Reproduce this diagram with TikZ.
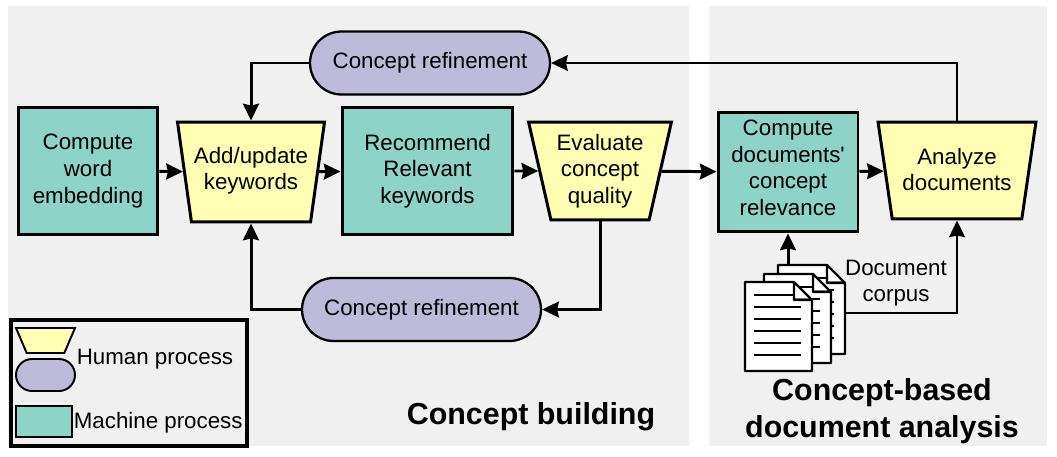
\documentclass[tikz,border=0pt]{standalone}
\usepackage{fontspec}
\setmainfont{Liberation Sans}[Ligatures=TeXOff]
\usetikzlibrary{arrows.meta}
\usetikzlibrary{shapes.geometric}
\usetikzlibrary{shapes.misc}
\definecolor{panelgray}{HTML}{F0F0F0}
\definecolor{machineteal}{HTML}{8DD3C7}
\definecolor{humanyellow}{HTML}{FFFFB3}
\definecolor{humanpurple}{HTML}{BEBADA}
\newcommand{\liftby}[1]{\rule[-#1]{0pt}{0pt}}
\tikzset{
  bodytext/.style={font=\fontsize{12.7}{15.1}\selectfont, align=center, text=black},
  machinebox/.style={bodytext, draw, line width=1.7pt, fill=machineteal, inner sep=0pt},
  humantrap/.style={bodytext, draw, line width=1.7pt, fill=humanyellow, inner sep=0pt,
    trapezium, shape border rotate=180, trapezium stretches=true, trapezium angle=75},
  humanpill/.style={bodytext, draw, line width=1.3pt, fill=humanpurple, inner sep=0pt,
    rounded rectangle},
  flow/.style={line width=1.7pt, -{Stealth[length=9.5pt,width=9pt,inset=1pt]}},
  thinflow/.style={line width=1.1pt, -{Stealth[length=9.5pt,width=9pt,inset=1pt]}},
  titletext/.style={font=\fontsize{17.3}{21}\selectfont\bfseries, align=center},
  pics/docpage/.style={code={
    \fill[white] (0,0) -- (49,0) -- (67,18) -- (67,89) -- (0,89) -- cycle;
    \foreach \row in {13,25,37,49,61,73}
      \draw[line width=1pt] (9,\row) -- (56,\row);
    \fill[white] (49,-1) -- (68,18) -- (49,18) -- cycle;
    \fill[gray] (49,16) rectangle (67,18);
    \draw[line width=1.3pt, line join=round] (49,0) -- (0,0) -- (0,89) -- (67,89) -- (67,18) -- (49,0) -- (49,18) -- (67,18);
    \coordinate (-top) at (10,0);
    \coordinate (-right) at (67,48);
  }}
}
\begin{document}
\begin{tikzpicture}[x=0.02cm, y=-0.02cm]
\useasboundingbox (0,0) rectangle (1057,456);
\fill[white] (0,0) rectangle (1057,456);
\fill[panelgray] (8,6) rectangle (689,446);
\fill[panelgray] (709,6) rectangle (1047,446);

% process steps
\node[machinebox, minimum width=2.8cm, minimum height=2.56cm] (embed) at (88,171) {Compute\\word\\embedding};
\node[humantrap, minimum width=2.96cm, minimum height=2cm] (keywords) at (251,172) {Add/update\\keywords\liftby{4.1pt}};
\node[machinebox, minimum width=3.42cm, minimum height=2.56cm] (recommend) at (427.5,171) {Recommend\\Relevant\\keywords};
\node[humantrap, minimum width=2.88cm, minimum height=1.96cm] (evaluate) at (600,171) {Evaluate\\concept\\quality};
\node[machinebox, minimum width=2.8cm, minimum height=2.4cm] (relevance) at (788,172) {Compute\\documents'\\concept\\relevance\liftby{5.1pt}};
\node[humantrap, minimum width=3.16cm, minimum height=1.94cm] (analyze) at (957,170.5) {Analyze\\documents\liftby{1.1pt}};
\node[humanpill, minimum width=4.8cm, minimum height=1.26cm] (refinetop) at (430,63) {Concept refinement};
\node[humanpill, minimum width=4.78cm, minimum height=1.26cm] (refinebottom) at (421.5,309.5) {Concept refinement};

% document stack
\pic (pagec) at (778,265) {docpage};
\pic (pageb) at (764,274) {docpage};
\pic (pagea) at (745,282) {docpage};
\node[bodytext] (corpus) at (896,283) {Document\\corpus};

% connectors
\draw[flow] (embed) -- (keywords);
\draw[flow] (keywords) -- (recommend);
\draw[flow] (recommend) -- (evaluate);
\draw[flow] (evaluate) -- (relevance);
\draw[flow] (relevance) -- (analyze);
\draw[flow] (refinetop.west) -| (keywords.north);
\draw[flow] (refinebottom.west) -| (keywords.south);
\draw[flow] (evaluate.south) |- (refinebottom.east);
\draw[thinflow] (analyze.north) |- (refinetop.east);
\draw[flow] (pagec-top) -- (relevance.south);
\draw[thinflow] (pagec-right) -| (analyze.south);

% legend
\draw[line width=2pt] (11,320) rectangle (247,446);
\node[humantrap, line width=1.1pt, minimum width=1.18cm, minimum height=0.5cm] (legendtrap) at (45.5,340.5) {\phantom{x}};
\node[humanpill, line width=1.1pt, minimum width=1.18cm, minimum height=0.64cm] (legendpill) at (45.5,375) {};
\node[machinebox, line width=1.1pt, minimum width=1.12cm, minimum height=0.62cm] (legendbox) at (44,421.5) {};
\node[bodytext, anchor=west, inner sep=0pt] (legendhuman) at (76.5,359) {Human process};
\node[bodytext, anchor=west, inner sep=0pt] (legendmachine) at (73.5,423) {Machine process};

% panel titles
\node[titletext] (building) at (531,417) {Concept building};
\node[titletext] (analysis) at (882,411) {Concept-based\\document analysis};
\end{tikzpicture}
\end{document}
